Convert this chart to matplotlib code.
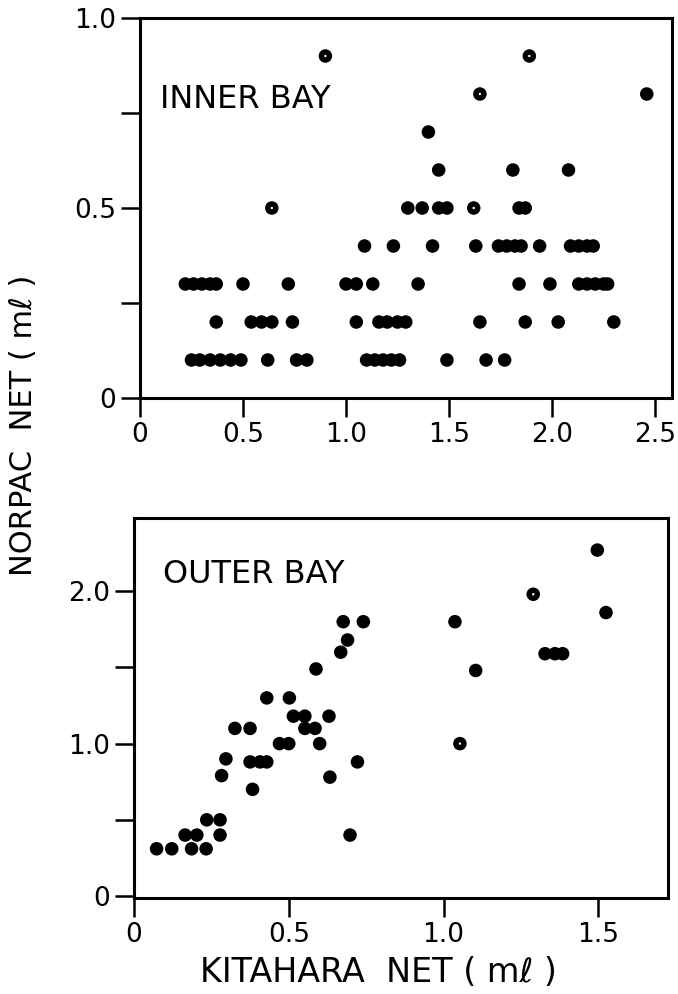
import matplotlib
matplotlib.use("Agg")
import matplotlib.pyplot as plt

plt.rcParams['font.family'] = ['DejaVu Sans']

# ---------------- INNER BAY (KITAHARA vs NORPAC, ml) ----------------
inner_kitahara = [
    # NORPAC 0.1
    0.25, 0.29, 0.34, 0.39, 0.44, 0.49, 0.62, 0.76, 0.81, 1.10, 1.14, 1.18, 1.22, 1.26, 1.49, 1.68, 1.77,
    # NORPAC 0.2
    0.37, 0.54, 0.59, 0.64, 0.74, 1.05, 1.16, 1.20, 1.25, 1.29, 1.65, 1.87, 2.03, 2.30,
    # NORPAC 0.3
    0.22, 0.26, 0.30, 0.34, 0.37, 0.50, 0.72, 1.00, 1.05, 1.13, 1.35, 1.84, 1.99, 2.13, 2.17, 2.21, 2.25, 2.27,
    # NORPAC 0.4
    1.09, 1.23, 1.42, 1.63, 1.74, 1.78, 1.82, 1.85, 1.94, 2.09, 2.13, 2.17, 2.20,
    # NORPAC 0.5
    0.64, 1.30, 1.37, 1.45, 1.49, 1.62, 1.84, 1.87,
    # NORPAC 0.6
    1.45, 1.81, 2.08,
    # NORPAC 0.7
    1.40,
    # NORPAC 0.8
    1.65, 2.46,
    # NORPAC 0.9
    0.90, 1.89,
]
inner_norpac = (
    [0.1] * 17 + [0.2] * 14 + [0.3] * 18 + [0.4] * 13 + [0.5] * 8
    + [0.6] * 3 + [0.7] * 1 + [0.8] * 2 + [0.9] * 2
)
inner_open_x = [0.90, 0.64, 1.65, 1.89, 1.62]
inner_open_y = [0.90, 0.50, 0.80, 0.90, 0.50]

# ---------------- OUTER BAY ----------------
outer_kitahara = [
    0.073, 0.122, 0.186, 0.233,
    0.165, 0.203, 0.278, 0.698,
    0.235, 0.278,
    0.383,
    0.283, 0.633,
    0.297, 0.375, 0.407, 0.429, 0.722,
    0.47, 0.50, 0.60, 1.053,
    0.326, 0.375, 0.552, 0.585,
    0.515, 0.552, 0.63,
    0.429, 0.502,
    1.104, 0.588,
    1.328, 1.36, 1.385, 0.668,
    0.69,
    0.676, 0.741, 1.037,
    1.525, 1.29, 1.497,
]
outer_norpac = [
    0.31, 0.31, 0.31, 0.31,
    0.40, 0.40, 0.40, 0.40,
    0.50, 0.50,
    0.70,
    0.79, 0.78,
    0.90, 0.88, 0.88, 0.88, 0.88,
    1.00, 1.00, 1.00, 1.00,
    1.10, 1.10, 1.10, 1.10,
    1.18, 1.18, 1.18,
    1.30, 1.30,
    1.48, 1.49,
    1.59, 1.59, 1.59, 1.60,
    1.68,
    1.80, 1.80, 1.80,
    1.86, 1.98, 2.27,
]
outer_open_x = [1.053, 1.29]
outer_open_y = [1.00, 1.98]

inner_xticks = [0, 0.5, 1.0, 1.5, 2.0, 2.5]
inner_xticklabels = ["0", "0.5", "1.0", "1.5", "2.0", "2.5"]
inner_yticks = [0, 0.5, 1.0]
inner_yticklabels = ["0", "0.5", "1.0"]
inner_yminor = [0.25, 0.75]

outer_xticks = [0, 0.5, 1.0, 1.5]
outer_xticklabels = ["0", "0.5", "1.0", "1.5"]
outer_yticks = [0, 1.0, 2.0]
outer_yticklabels = ["0", "1.0", "2.0"]
outer_yminor = [0.5, 1.5]

W, H = 678, 994
fig = plt.figure(figsize=(W / 100, H / 100), dpi=100)

ax1 = fig.add_axes([140 / W, 1 - 398 / H, (672 - 140) / W, (398 - 18) / H])
ax2 = fig.add_axes([134 / W, 1 - 898 / H, (668 - 134) / W, (898 - 518) / H])

dot_size = 95

for ax in (ax1, ax2):
    for sp in ax.spines.values():
        sp.set_linewidth(2.2)
        sp.set_color('black')
    ax.tick_params(which='both', direction='out', length=14, width=1.8,
                   labelsize=19, pad=3, color='black')

ax1.scatter(inner_kitahara, inner_norpac, s=dot_size, c='black', edgecolors='none', zorder=3)
ax1.scatter(inner_open_x, inner_open_y, s=3, c='white', edgecolors='none', zorder=4)
ax1.set_xlim(0, (672 - 140) / 206)
ax1.set_ylim(0, 1.0)
ax1.set_xticks(inner_xticks)
ax1.set_xticklabels(inner_xticklabels)
ax1.set_yticks(inner_yticks)
ax1.set_yticklabels(inner_yticklabels)
ax1.set_yticks(inner_yminor, minor=True)
ax1.text(0.097, 0.785, "INNER BAY", fontsize=23, va='center', ha='left')

ax2.scatter(outer_kitahara, outer_norpac, s=dot_size, c='black', edgecolors='none', zorder=3)
ax2.scatter(outer_open_x, outer_open_y, s=3, c='white', edgecolors='none', zorder=4)
ax2.set_xlim(0, (668 - 134) / 309.5)
ax2.set_ylim(-0.013, (900 - 518) / 154)
ax2.set_xticks(outer_xticks)
ax2.set_xticklabels(outer_xticklabels)
ax2.set_yticks(outer_yticks)
ax2.set_yticklabels(outer_yticklabels)
ax2.set_yticks(outer_yminor, minor=True)
ax2.text(0.095, 2.11, "OUTER BAY", fontsize=23, va='center', ha='left')

fig.text(24 / W, 1 - 425 / H, "NORPAC  NET ( mℓ )", rotation=90,
         fontsize=22, ha='center', va='center')
fig.text(378 / W, 1 - 972 / H, "KITAHARA  NET ( mℓ )", fontsize=24,
         ha='center', va='center')

fig.savefig("out.png", dpi=100)
